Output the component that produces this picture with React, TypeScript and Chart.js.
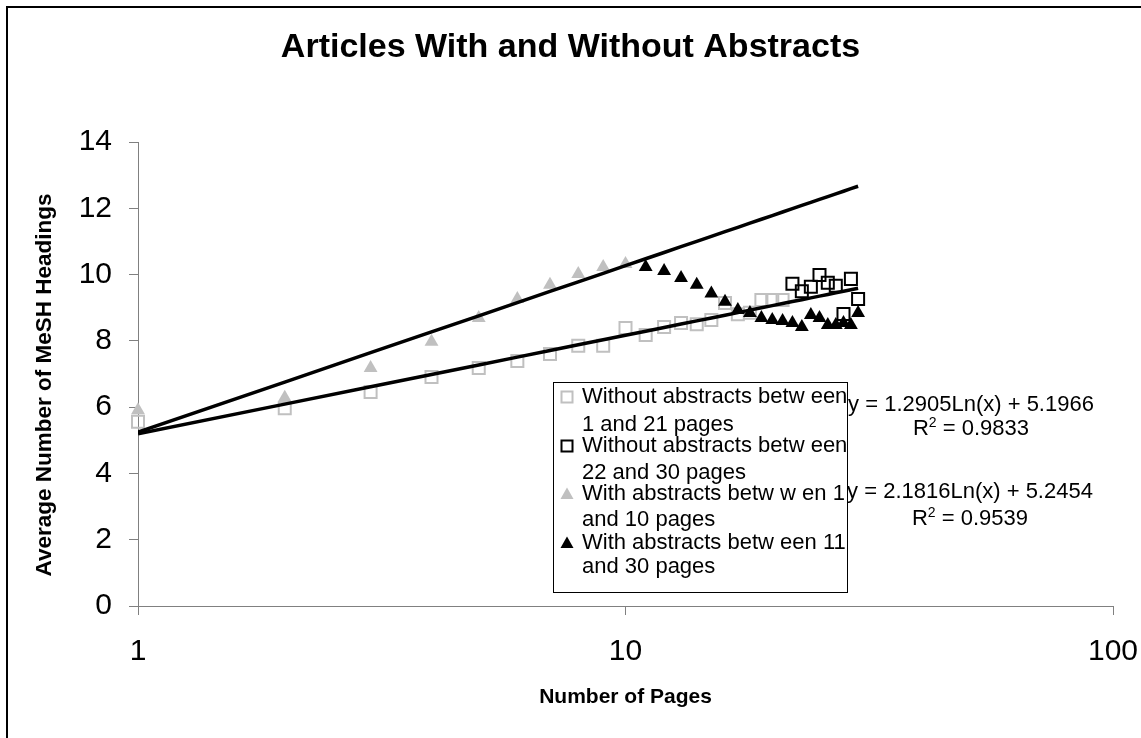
import React, { useEffect, useRef } from 'react';
import { Chart, registerables } from 'chart.js';

Chart.register(...registerables);

const FONT = "'Liberation Sans', Arial, sans-serif";

const TITLE = 'Articles With and Without Abstracts';
const X_TITLE = 'Number of Pages';
const Y_TITLE = 'Average Number of MeSH Headings';

const X_TICKS = [1, 10, 100];
const Y_MIN = 0;
const Y_MAX = 14;
const Y_STEP = 2;

// Articles without abstracts, 1-21 pages
const PAGES_NO_ABS_SHORT = [1, 2, 3, 4, 5, 6, 7, 8, 9, 10, 11, 12, 13, 14, 15, 16, 17, 18, 19, 20, 21];
const MESH_NO_ABS_SHORT = [5.56, 5.97, 6.46, 6.91, 7.18, 7.39, 7.6, 7.85, 7.85, 8.39, 8.18, 8.42, 8.54, 8.5, 8.63, 9.14, 8.8, 8.85, 9.23, 9.23, 9.23];

// Articles without abstracts, 22-30 pages
const PAGES_NO_ABS_LONG = [22, 23, 24, 25, 26, 27, 28, 29, 30];
const MESH_NO_ABS_LONG = [9.72, 9.5, 9.63, 9.99, 9.75, 9.66, 8.81, 9.87, 9.26];

// Articles with abstracts, 1-10 pages
const PAGES_ABS_SHORT = [1, 2, 3, 4, 5, 6, 7, 8, 9, 10];
const MESH_ABS_SHORT = [5.91, 6.28, 7.18, 7.97, 8.69, 9.26, 9.69, 10.02, 10.23, 10.32];

// Articles with abstracts, 11-30 pages
const PAGES_ABS_LONG = [11, 12, 13, 14, 15, 16, 17, 18, 19, 20, 21, 22, 23, 24, 25, 26, 27, 28, 29, 30];
const MESH_ABS_LONG = [10.23, 10.11, 9.9, 9.69, 9.43, 9.18, 8.93, 8.84, 8.69, 8.63, 8.6, 8.54, 8.42, 8.78, 8.69, 8.48, 8.48, 8.54, 8.48, 8.84];

const LEGEND_LINES = [
  ['Without abstracts betw een', '1 and 21 pages'],
  ['Without abstracts betw een', '22 and 30 pages'],
  ['With abstracts betw w en 1', 'and 10 pages'],
  ['With abstracts betw een 11', 'and 30 pages'],
];

// Logarithmic trendlines y = a·Ln(x) + b with their R² values
const FIT_NO_ABS = [1.2905, 5.1966];
const FIT_ABS = [2.1816, 5.2454];
const R2_NO_ABS = '0.9833';
const R2_ABS = '0.9539';
const FIT_PAGES = [1, 2, 3, 4, 5, 6, 7, 8, 9, 10, 11, 12, 13, 14, 15, 16, 17, 18, 19, 20, 21, 22, 23, 24, 25, 26, 27, 28, 29, 30];

const GRAY = '#C0C0C0';
const AXIS = '#808080';

const toPoints = (xs: number[], ys: number[]) => xs.map((x, i) => ({ x, y: ys[i] }));
const fitPoints = (fit: number[]) => FIT_PAGES.map((x) => ({ x, y: fit[0] * Math.log(x) + fit[1] }));
const equation = (fit: number[]) => `y = ${fit[0].toFixed(4)}Ln(x) + ${fit[1].toFixed(4)}`;

type Marker = { shape: 'rect' | 'tri'; color: string };
const LEGEND_MARKERS: Marker[] = [
  { shape: 'rect', color: GRAY },
  { shape: 'rect', color: '#000000' },
  { shape: 'tri', color: GRAY },
  { shape: 'tri', color: '#000000' },
];

function drawMarker(ctx: CanvasRenderingContext2D, m: Marker, x: number, y: number) {
  ctx.save();
  if (m.shape === 'rect') {
    ctx.strokeStyle = m.color;
    ctx.lineWidth = 2;
    ctx.strokeRect(x - 5.5, y - 5.5, 11, 11);
  } else {
    ctx.fillStyle = m.color;
    ctx.beginPath();
    ctx.moveTo(x, y - 6.5);
    ctx.lineTo(x + 6.5, y + 5);
    ctx.lineTo(x - 6.5, y + 5);
    ctx.closePath();
    ctx.fill();
  }
  ctx.restore();
}

function drawR2(ctx: CanvasRenderingContext2D, cx: number, cy: number, value: string) {
  const big = `22px ${FONT}`;
  const small = `14px ${FONT}`;
  ctx.font = big;
  const rW = ctx.measureText('R').width;
  const rest = ` = ${value}`;
  const restW = ctx.measureText(rest).width;
  ctx.font = small;
  const sW = ctx.measureText('2').width;
  let x = cx - (rW + sW + restW) / 2;
  ctx.textAlign = 'left';
  ctx.textBaseline = 'middle';
  ctx.font = big;
  ctx.fillText('R', x, cy);
  x += rW;
  ctx.font = small;
  ctx.fillText('2', x, cy - 6);
  x += sW;
  ctx.font = big;
  ctx.fillText(rest, x, cy);
}

const annotations = {
  id: 'annotations',
  beforeDraw(chart: Chart) {
    const ctx = chart.ctx;
    ctx.save();
    ctx.fillStyle = '#ffffff';
    ctx.fillRect(0, 0, chart.width, chart.height);
    ctx.restore();
  },
  afterDraw(chart: Chart) {
    const ctx = chart.ctx;
    ctx.save();

    // outer frame
    ctx.fillStyle = '#000000';
    ctx.fillRect(6, 6, chart.width - 6, 2);
    ctx.fillRect(6, 6, 2, chart.height - 6);

    // y-axis title
    ctx.save();
    ctx.translate(45, 385);
    ctx.rotate(-Math.PI / 2);
    ctx.font = `bold 22.5px ${FONT}`;
    ctx.textAlign = 'center';
    ctx.textBaseline = 'middle';
    ctx.fillStyle = '#000000';
    ctx.fillText(Y_TITLE, 0, 0);
    ctx.restore();

    // legend box
    const lx = 553.5;
    const ly = 382.5;
    ctx.fillStyle = '#ffffff';
    ctx.fillRect(lx, ly, 294, 210);
    ctx.strokeStyle = '#000000';
    ctx.lineWidth = 1;
    ctx.strokeRect(lx, ly, 294, 210);

    const rows = [
      [397, 425],
      [446, 473],
      [494, 520],
      [543, 567],
    ];
    ctx.font = `22px ${FONT}`;
    ctx.textAlign = 'left';
    ctx.textBaseline = 'middle';
    LEGEND_LINES.forEach((lines, i) => {
      drawMarker(ctx, LEGEND_MARKERS[i], 567, rows[i][0]);
      ctx.fillStyle = '#000000';
      lines.forEach((t, j) => ctx.fillText(t, 582, rows[i][j]));
    });

    // trendline equations
    ctx.fillStyle = '#000000';
    ctx.font = `22px ${FONT}`;
    ctx.textAlign = 'center';
    ctx.textBaseline = 'middle';
    ctx.fillText(equation(FIT_NO_ABS), 971, 405);
    drawR2(ctx, 971, 429, R2_NO_ABS);
    ctx.font = `22px ${FONT}`;
    ctx.textAlign = 'center';
    ctx.fillText(equation(FIT_ABS), 970, 492);
    drawR2(ctx, 970, 519, R2_ABS);

    ctx.restore();
  },
};

export default function App() {
  const canvasRef = useRef<HTMLCanvasElement | null>(null);

  useEffect(() => {
    const canvas = canvasRef.current;
    if (!canvas) return;
    const chart = new Chart(canvas, {
      type: 'scatter',
      data: {
        datasets: [
          {
            label: 'Trend (with abstracts)',
            data: fitPoints(FIT_ABS),
            showLine: true,
            borderColor: '#000000',
            borderWidth: 3.5,
            pointRadius: 0,
            order: 0,
          },
          {
            label: 'Trend (without abstracts)',
            data: fitPoints(FIT_NO_ABS),
            showLine: true,
            borderColor: '#000000',
            borderWidth: 3.5,
            pointRadius: 0,
            order: 0,
          },
          {
            label: LEGEND_LINES[3].join(' '),
            data: toPoints(PAGES_ABS_LONG, MESH_ABS_LONG),
            pointStyle: 'triangle',
            pointRadius: 8,
            backgroundColor: '#000000',
            borderColor: '#000000',
            borderWidth: 0,
            clip: false,
            order: 1,
          },
          {
            label: LEGEND_LINES[2].join(' '),
            data: toPoints(PAGES_ABS_SHORT, MESH_ABS_SHORT),
            pointStyle: 'triangle',
            pointRadius: 8,
            backgroundColor: GRAY,
            borderColor: GRAY,
            borderWidth: 0,
            clip: false,
            order: 2,
          },
          {
            label: LEGEND_LINES[1].join(' '),
            data: toPoints(PAGES_NO_ABS_LONG, MESH_NO_ABS_LONG),
            pointStyle: 'rect',
            pointRadius: 8.5,
            backgroundColor: 'rgba(0,0,0,0)',
            borderColor: '#000000',
            borderWidth: 2,
            clip: false,
            order: 3,
          },
          {
            label: LEGEND_LINES[0].join(' '),
            data: toPoints(PAGES_NO_ABS_SHORT, MESH_NO_ABS_SHORT),
            pointStyle: 'rect',
            pointRadius: 8.5,
            backgroundColor: 'rgba(0,0,0,0)',
            borderColor: GRAY,
            borderWidth: 2,
            clip: false,
            order: 4,
          },
        ],
      },
      options: {
        responsive: false,
        animation: false,
        events: [],
        layout: { padding: { left: 0, right: 0, top: 0, bottom: 0 } },
        plugins: {
          legend: { display: false },
          tooltip: { enabled: false },
          title: {
            display: true,
            text: TITLE,
            color: '#000000',
            font: { family: FONT, size: 34, weight: 'bold', lineHeight: 1.2 },
            padding: { top: 27, bottom: 74.2 },
          },
        },
        scales: {
          x: {
            type: 'logarithmic',
            position: 'bottom',
            min: 1,
            max: 100,
            afterBuildTicks: (scale: any) => {
              scale.ticks = X_TICKS.map((v) => ({ value: v }));
            },
            afterFit: (scale: any) => {
              scale.height = 132;
              scale.paddingLeft = 0;
              scale.paddingRight = 28;
            },
            ticks: {
              color: '#000000',
              font: { family: FONT, size: 30, lineHeight: 1.2 },
              padding: 19,
              maxRotation: 0,
              autoSkip: false,
              callback: (v: any) => String(v),
            },
            grid: { drawOnChartArea: false, drawTicks: true, tickLength: 9, color: AXIS },
            border: { display: true, color: AXIS, width: 1 },
            title: {
              display: true,
              text: X_TITLE,
              color: '#000000',
              font: { family: FONT, size: 21, weight: 'bold', lineHeight: 1.2 },
              padding: { top: 0, bottom: 28 },
            },
          },
          y: {
            type: 'linear',
            position: 'left',
            min: Y_MIN,
            max: Y_MAX,
            afterFit: (scale: any) => {
              scale.width = 138;
            },
            ticks: {
              stepSize: Y_STEP,
              color: '#000000',
              font: { family: FONT, size: 30, lineHeight: 1.2 },
              padding: 17,
            },
            grid: { drawOnChartArea: false, drawTicks: true, tickLength: 9, color: AXIS },
            border: { display: true, color: AXIS, width: 1 },
            title: { display: false, text: Y_TITLE },
          },
        },
      },
      plugins: [annotations],
    });
    return () => chart.destroy();
  }, []);

  return (
    <div style={{ position: 'absolute', left: 0, top: 0, width: 1141, height: 738 }}>
      <canvas ref={canvasRef} width={1141} height={738} />
    </div>
  );
}
